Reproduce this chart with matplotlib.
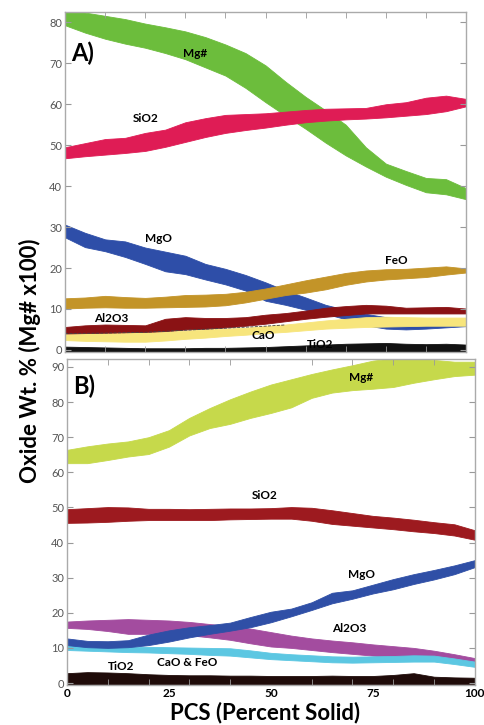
import matplotlib
matplotlib.use("Agg")
import matplotlib.pyplot as plt
from matplotlib.ticker import MultipleLocator

plt.rcParams['font.family'] = ['Lato', 'DejaVu Sans']

# percent solid, same for every band
pcs = [0, 5, 10, 15, 20, 25, 30, 35, 40, 45, 50, 55, 60, 65, 70, 75, 80, 85, 90, 95, 100]

# ---- panel A : upper / lower edge of each band
a_mgnum_hi = [82.6, 82.4, 81.6, 80.8, 79.7, 78.8, 77.8, 76.4, 74.6, 72.5, 69.5, 65.5, 61.8, 58.5, 55.0, 49.5, 45.5, 43.7, 42.0, 41.7, 39.5]
a_mgnum_lo = [79.3, 77.5, 76.0, 74.8, 73.8, 72.5, 71.0, 69.0, 67.0, 64.0, 60.5, 57.2, 54.0, 50.6, 47.5, 44.8, 42.3, 40.3, 38.5, 38.0, 36.8]
a_sio2_hi = [49.5, 50.5, 51.5, 51.8, 53.0, 53.8, 55.6, 56.6, 57.4, 57.6, 57.8, 58.2, 58.6, 58.9, 59.0, 59.1, 60.0, 60.5, 61.6, 62.1, 61.3]
a_sio2_lo = [46.8, 47.3, 47.7, 48.1, 48.6, 49.6, 50.8, 52.0, 53.0, 53.7, 54.3, 55.0, 55.6, 56.0, 56.3, 56.5, 56.8, 57.2, 57.6, 58.3, 59.5]
a_mgo_hi = [30.6, 28.6, 27.0, 26.5, 25.0, 24.0, 23.0, 21.0, 19.8, 18.3, 16.5, 14.5, 12.8, 11.0, 9.8, 8.8, 8.0, 7.5, 7.3, 7.2, 7.3]
a_mgo_lo = [27.5, 25.1, 24.1, 22.7, 21.0, 19.2, 18.5, 17.2, 16.0, 14.5, 12.0, 11.0, 9.8, 8.8, 7.5, 6.0, 5.2, 5.0, 5.2, 5.5, 5.8]
a_feo_hi = [12.6, 12.8, 13.2, 12.9, 12.7, 13.0, 13.4, 13.5, 13.7, 14.2, 15.0, 16.0, 17.0, 17.9, 18.8, 19.4, 19.7, 19.8, 20.1, 20.4, 19.9]
a_feo_lo = [10.1, 10.3, 10.4, 10.3, 10.3, 10.4, 10.5, 10.6, 10.9, 11.6, 12.5, 13.4, 14.0, 14.8, 15.9, 16.7, 17.2, 17.5, 17.8, 18.4, 18.9]
a_al2o3_hi = [5.6, 6.0, 6.2, 6.1, 6.0, 7.6, 8.0, 7.8, 7.8, 8.0, 8.6, 9.0, 9.6, 10.3, 10.7, 11.0, 10.8, 10.3, 10.4, 10.5, 10.1]
a_al2o3_lo = [4.0, 4.1, 4.2, 4.3, 4.4, 4.6, 5.0, 5.2, 5.5, 5.9, 6.4, 7.0, 7.6, 8.1, 8.5, 8.9, 8.9, 8.9, 8.9, 8.9, 8.9]
a_cao_hi = [3.8, 4.0, 4.1, 4.2, 4.3, 4.5, 4.7, 5.0, 5.2, 5.4, 5.8, 6.2, 6.7, 7.2, 7.6, 8.0, 8.1, 8.0, 7.9, 7.9, 7.9]
a_cao_lo = [2.4, 2.2, 2.1, 2.0, 2.0, 2.3, 2.7, 3.0, 3.4, 3.7, 4.1, 4.4, 4.8, 5.2, 5.4, 5.6, 5.7, 5.8, 5.9, 5.9, 5.9]
a_tio2_hi = [0.8, 0.7, 0.6, 0.5, 0.4, 0.4, 0.4, 0.5, 0.5, 0.6, 0.7, 0.9, 1.1, 1.3, 1.5, 1.6, 1.7, 1.5, 1.4, 1.5, 1.3]
a_tio2_lo = [-0.6, -0.6, -0.7, -0.7, -0.7, -0.7, -0.7, -0.7, -0.7, -0.7, -0.6, -0.6, -0.6, -0.5, -0.5, -0.5, -0.5, -0.5, -0.5, -0.5, -0.5]
# thin dashed trace between Al2O3 and CaO
a_dash_x = [0, 10, 20, 30, 40, 50, 55]
a_dash_y = [4.0, 4.1, 4.3, 4.8, 5.3, 5.8, 6.1]

# ---- panel B
b_mgnum_hi = [66.4, 67.4, 68.2, 68.8, 70.0, 72.0, 75.5, 78.3, 80.8, 83.0, 85.0, 86.5, 88.0, 89.3, 90.5, 91.8, 92.5, 92.5, 92.0, 91.5, 91.5]
b_mgnum_lo = [62.6, 62.6, 63.5, 64.5, 65.2, 67.3, 70.5, 72.6, 73.8, 75.5, 76.9, 78.5, 81.2, 82.7, 83.4, 83.8, 84.3, 85.5, 86.5, 87.4, 87.8]
b_sio2_hi = [49.5, 49.8, 50.1, 50.0, 49.6, 49.6, 49.5, 49.6, 49.7, 49.7, 49.8, 50.1, 49.9, 49.2, 48.4, 47.6, 47.1, 46.5, 45.8, 45.2, 43.5]
b_sio2_lo = [45.6, 45.7, 45.9, 46.2, 46.4, 46.4, 46.4, 46.4, 46.6, 46.7, 46.8, 46.8, 46.2, 45.3, 44.8, 44.3, 43.8, 43.2, 42.7, 42.0, 40.8]
b_al2o3_hi = [17.5, 17.8, 18.0, 18.2, 18.0, 17.8, 17.4, 16.8, 16.2, 15.5, 14.5, 13.5, 12.7, 12.1, 11.6, 11.0, 10.5, 10.0, 9.2, 8.2, 7.1]
b_al2o3_lo = [15.7, 15.4, 14.8, 14.0, 14.0, 14.0, 13.6, 13.0, 12.3, 11.3, 10.4, 10.0, 9.4, 8.8, 8.3, 7.8, 7.4, 7.1, 6.8, 6.4, 6.0]
b_caofeo_hi = [11.3, 11.0, 10.7, 10.4, 10.3, 10.2, 10.1, 10.0, 9.9, 9.3, 8.6, 8.2, 7.9, 7.6, 7.5, 7.6, 7.7, 7.9, 7.8, 7.0, 6.1]
b_caofeo_lo = [9.4, 9.2, 9.0, 8.8, 8.7, 8.5, 8.3, 8.0, 7.8, 7.3, 6.8, 6.5, 6.2, 5.9, 5.8, 5.9, 6.0, 6.1, 6.1, 5.4, 4.6]
b_mgo_hi = [12.7, 12.0, 11.9, 12.2, 13.8, 15.0, 15.9, 16.5, 17.2, 18.8, 20.3, 21.2, 23.0, 25.7, 26.4, 28.0, 29.6, 31.0, 32.2, 33.5, 35.0]
b_mgo_lo = [10.8, 10.2, 10.0, 10.2, 10.8, 11.8, 13.0, 14.0, 14.9, 15.9, 17.3, 19.0, 20.8, 22.7, 24.0, 25.5, 26.7, 28.2, 29.5, 31.0, 33.0]
b_tio2_hi = [2.8, 3.1, 3.0, 2.8, 2.5, 2.3, 2.2, 2.2, 2.1, 2.1, 2.0, 2.0, 2.0, 2.1, 2.0, 2.0, 2.3, 2.8, 1.8, 1.6, 1.5]
b_tio2_lo = [-0.4, -0.4, -0.3, -0.3, -0.3, -0.3, -0.3, -0.3, -0.3, -0.3, -0.3, -0.3, -0.3, -0.3, -0.3, -0.3, -0.3, -0.3, -0.3, -0.3, -0.3]

# band labels (text, x, y)
a_labels = [("Mg#", 32.4, 72.3), ("SiO2", 20, 56.4), ("MgO", 23.3, 27.2), ("FeO", 82.7, 21.8),
	("Al2O3", 11.4, 7.6), ("CaO", 49.5, 3.6), ("TiO2", 63.6, 1.2)]
b_labels = [("Mg#", 72.2, 87), ("SiO2", 48.4, 53.5), ("MgO", 72.2, 30.8), ("Al2O3", 69.3, 15.6),
	("TiO2", 13.2, 4.6), ("CaO & FeO", 29.6, 5.8)]


def setup_axes(ax, ytop, ybot, ymax, letter, letter_y):
	ax.set_xlim(0, 100)
	ax.set_ylim(ybot, ytop)
	ax.xaxis.set_minor_locator(MultipleLocator(10))
	ax.set_yticks(range(0, ymax + 1, 10))
	ax.tick_params(which='both', direction='in', top=True, right=True, colors='#999999',
		labelcolor='#555555', labelsize=8, pad=2)
	ax.tick_params(axis='x', which='major', length=0)
	ax.tick_params(which='minor', length=4)
	ax.tick_params(axis='y', length=4)
	for s in ax.spines.values():
		s.set_color('#aaaaaa')
		s.set_linewidth(1.0)
	ax.text(1.5, letter_y, letter, fontsize=17, fontweight='bold', ha='left', va='center')


def band(ax, lo, hi, color):
	ax.fill_between(pcs, lo, hi, color=color, linewidth=0.6, edgecolor=color)


fig = plt.figure(figsize=(4.85, 7.25), dpi=100)

# ---- A
ax1 = fig.add_axes([0.134, 0.514, 0.827, 0.469])
band(ax1, a_mgnum_lo, a_mgnum_hi, '#6cbd3c')
band(ax1, a_sio2_lo, a_sio2_hi, '#df1c55')
band(ax1, a_mgo_lo, a_mgo_hi, '#2e4ea8')
band(ax1, a_feo_lo, a_feo_hi, '#c39428')
band(ax1, a_cao_lo, a_cao_hi, '#f7e57c')
band(ax1, a_al2o3_lo, a_al2o3_hi, '#8a1214')
ax1.plot(a_dash_x, a_dash_y, color='#444444', linestyle='--', linewidth=0.6)
band(ax1, a_tio2_lo, a_tio2_hi, '#111111')
setup_axes(ax1, 82.45, -0.6, 80, "A)", 72.4)
ax1.set_xticks([])
ax1.xaxis.set_minor_locator(MultipleLocator(10))
for t, x, y in a_labels:
	ax1.text(x, y, t, fontsize=8.5, fontweight='bold', ha='center', va='center')

# ---- B
ax2 = fig.add_axes([0.138, 0.055, 0.841, 0.450])
band(ax2, b_mgnum_lo, b_mgnum_hi, '#c6d94b')
band(ax2, b_sio2_lo, b_sio2_hi, '#9d1a1f')
band(ax2, b_al2o3_lo, b_al2o3_hi, '#a34c9f')
band(ax2, b_caofeo_lo, b_caofeo_hi, '#5cc7e2')
band(ax2, b_mgo_lo, b_mgo_hi, '#2f4fa6')
band(ax2, b_tio2_lo, b_tio2_hi, '#1f0b09')
setup_axes(ax2, 92.3, -0.6, 90, "B)", 84.4)
ax2.set_xticks([0, 25, 50, 75, 100])
ax2.set_xticklabels(['0', '25', '50', '75', '100'], fontweight='bold', color='black', fontsize=8.5)
for t, x, y in b_labels:
	ax2.text(x, y, t, fontsize=8.5, fontweight='bold', ha='center', va='center')

fig.text(0.062, 0.503, "Oxide Wt. % (Mg# x100)", rotation=90, fontsize=16, fontweight='bold',
	ha='center', va='center')
fig.text(0.547, 0.017, "PCS (Percent Solid)", fontsize=16, fontweight='bold', ha='center', va='center')

plt.savefig("out.png", dpi=100)
